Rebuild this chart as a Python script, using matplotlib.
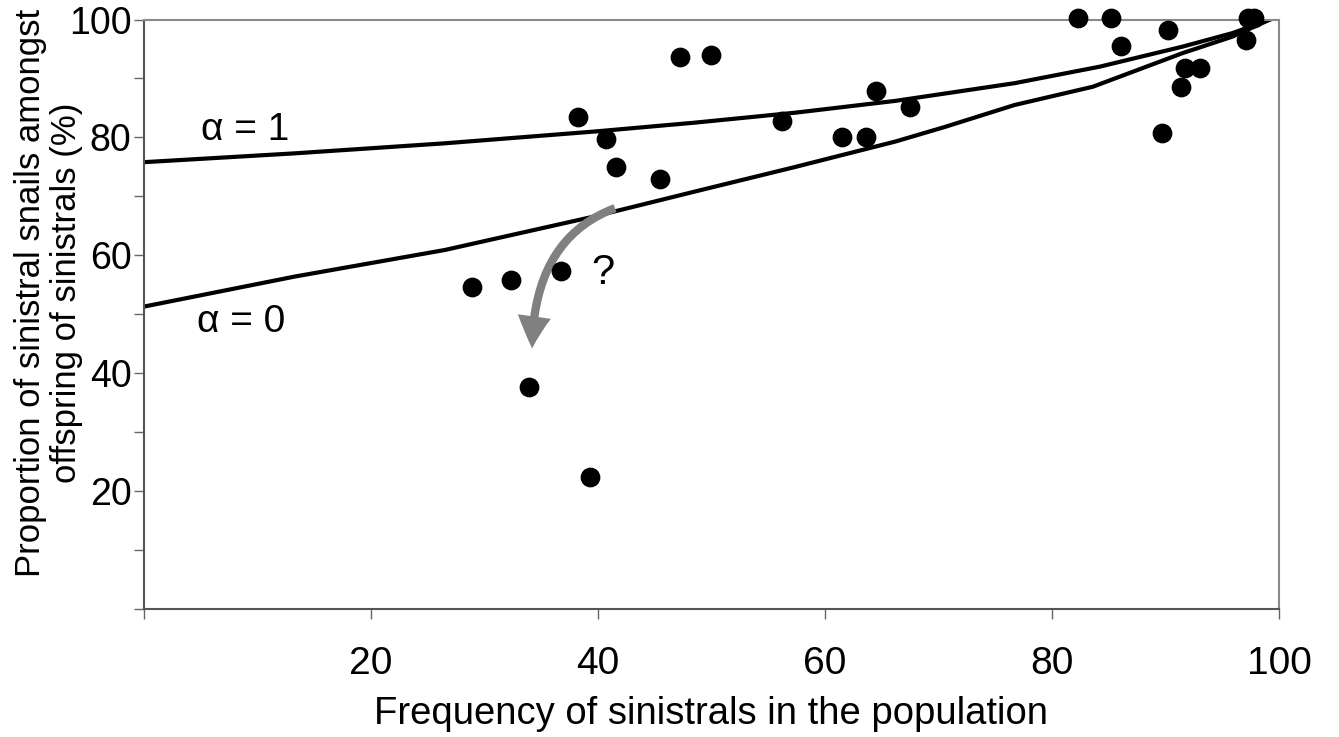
import matplotlib
matplotlib.use("Agg")
import matplotlib.pyplot as plt
from matplotlib.path import Path
from matplotlib.patches import FancyArrowPatch

plt.rcParams['font.family'] = ['Liberation Sans', 'DejaVu Sans']

# observed populations
freq = [47.2, 50.0, 64.5, 38.2, 40.7, 56.2, 61.5, 63.6, 41.6, 45.5,
        28.9, 32.3, 36.7, 33.9, 39.3, 67.5, 82.3, 85.2, 90.2, 86.1,
        97.3, 97.8, 97.1, 91.7, 93.0, 91.4, 89.7]
prop = [93.6, 94.0, 87.8, 83.5, 79.7, 82.8, 80.1, 80.1, 75.0, 72.9,
        54.6, 55.8, 57.4, 37.6, 22.4, 85.1, 100.2, 100.2, 98.3, 95.5,
        100.2, 100.2, 96.6, 91.7, 91.7, 88.5, 80.7]

# model curves
curve_x1 = [0, 13.3, 26.5, 39.7, 48.5, 57.4, 66.2, 76.7, 84.2, 91.5, 95.9, 99.2]
alpha1 = [75.8, 77.3, 79.0, 81.0, 82.5, 84.2, 86.2, 89.2, 92.0, 95.4, 97.7, 100.0]
curve_x0 = [0, 13.3, 26.5, 39.7, 48.5, 57.4, 66.2, 70.6, 76.7, 83.6, 91.5, 95.9, 99.2]
alpha0 = [51.3, 56.4, 60.9, 66.6, 70.8, 75.0, 79.3, 81.8, 85.5, 88.6, 94.3, 97.1, 100.0]

xticks = [0, 20, 40, 60, 80, 100]
xlabels = ['', '20', '40', '60', '80', '100']
yticks = [0, 10, 20, 30, 40, 50, 60, 70, 80, 90, 100]
ylabels = ['', '', '20', '', '40', '', '60', '', '80', '', '100']

fig = plt.figure(figsize=(13.39, 7.37), dpi=100)
ax = fig.add_axes([0.1075, 0.1737, 0.8477, 0.7998])

ax.plot(curve_x1, alpha1, color='black', lw=3, solid_joinstyle='round')
ax.plot(curve_x0, alpha0, color='black', lw=3, solid_joinstyle='round')
ax.scatter(freq, prop, s=175, color='black', zorder=3, clip_on=False)

# grey curved arrow
verts = [(41.5, 68.0), (34.3, 62.8), (34.2, 44.2)]
arrow_path = Path(verts, [Path.MOVETO, Path.CURVE3, Path.CURVE3])
arrow = FancyArrowPatch(path=arrow_path,
                        arrowstyle='simple,tail_width=0.6,head_width=2.4,head_length=2.3',
                        mutation_scale=10, color='#808080', lw=0, zorder=2)
ax.add_patch(arrow)

ax.text(8.9, 81.3, 'α = 1', fontsize=28, ha='center', va='center')
ax.text(8.6, 48.7, 'α = 0', fontsize=28, ha='center', va='center')
ax.text(40.4, 57.0, '?', fontsize=30, ha='center', va='center')

ax.set_xlim(0, 100)
ax.set_ylim(0, 100)
ax.set_xticks(xticks)
ax.set_xticklabels(xlabels, fontsize=28)
ax.set_yticks(yticks)
ax.set_yticklabels(ylabels, fontsize=27)
ax.tick_params(axis='x', length=7, width=1, colors='#666666', labelcolor='black', pad=20)
ax.tick_params(axis='y', length=7, width=1, colors='#666666', labelcolor='black', pad=2)

for side in ['left', 'bottom']:
    ax.spines[side].set_color('#555555')
    ax.spines[side].set_linewidth(1.5)
for side in ['top', 'right']:
    ax.spines[side].set_color('#8a8a8a')
    ax.spines[side].set_linewidth(1.5)

ax.set_xlabel('Frequency of sinistrals in the population', fontsize=27.5, labelpad=10)
ax.set_ylabel('Proportion of sinistral snails amongst\noffspring of sinistrals (%)',
              fontsize=25, linespacing=1.1)
ax.yaxis.set_label_coords(-0.054, 0.536)

fig.savefig('out.png', dpi=100)
